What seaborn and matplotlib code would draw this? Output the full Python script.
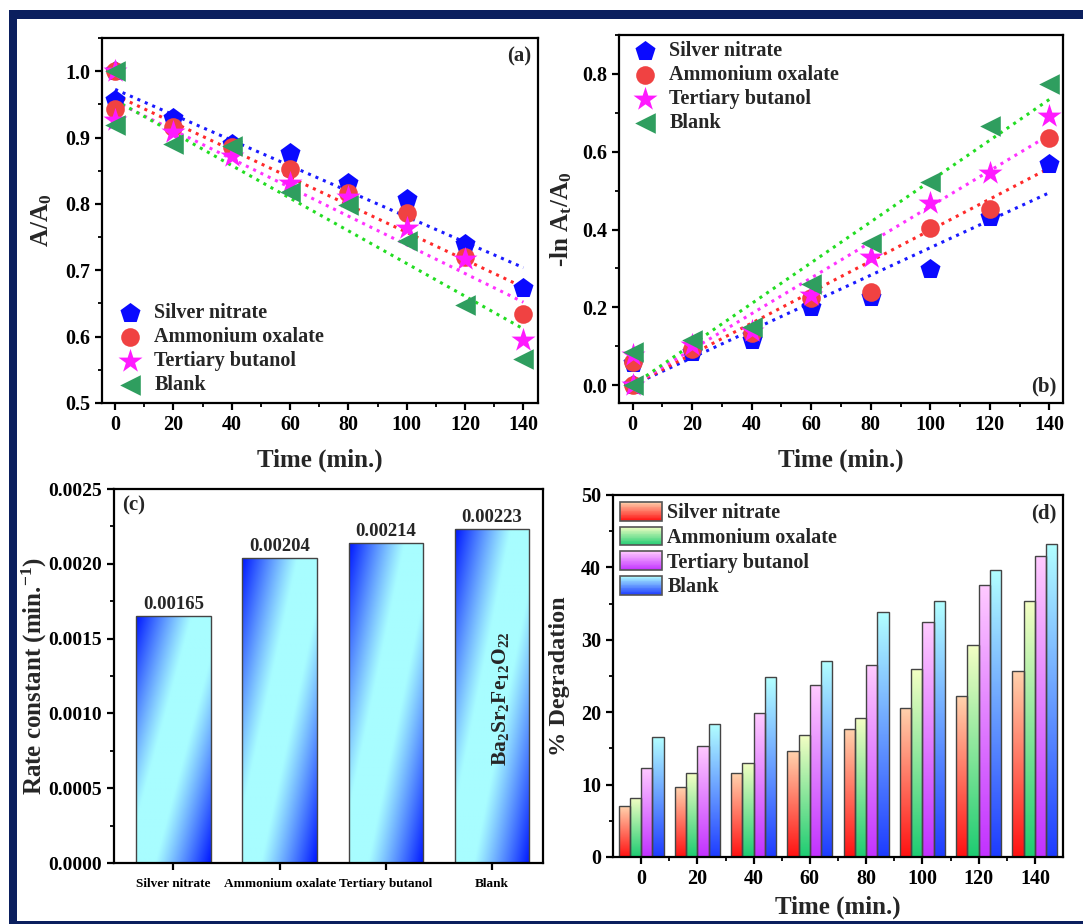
import matplotlib
matplotlib.use('Agg')
import matplotlib.pyplot as plt
import seaborn as sns
import numpy as np
import pandas as pd
from matplotlib.patches import Rectangle, Patch
from matplotlib.legend_handler import HandlerBase
from matplotlib.colors import LinearSegmentedColormap, to_rgb
from matplotlib.ticker import MultipleLocator, FixedLocator, FormatStrFormatter

# ---- data ----
time = [0, 20, 40, 60, 80, 100, 120, 140]
scavengers = ['Silver nitrate', 'Ammonium oxalate', 'Tertiary butanol', 'Blank']

# (a) A/A0 (every series also starts with a 1.0 point at t = 0)
a_silver = [0.956, 0.930, 0.891, 0.876, 0.832, 0.808, 0.740, 0.673]
a_ammonium = [0.943, 0.916, 0.885, 0.852, 0.816, 0.787, 0.720, 0.634]
a_tertiary = [0.927, 0.909, 0.872, 0.831, 0.810, 0.764, 0.717, 0.595]
a_blank = [0.919, 0.891, 0.888, 0.818, 0.798, 0.744, 0.647, 0.567]

# (b) -ln At/A0 (every series also starts with a 0.0 point at t = 0)
b_silver = [0.056, 0.086, 0.116, 0.200, 0.227, 0.298, 0.433, 0.568]
b_ammonium = [0.060, 0.092, 0.133, 0.223, 0.240, 0.403, 0.453, 0.634]
b_tertiary = [0.077, 0.103, 0.140, 0.232, 0.330, 0.468, 0.545, 0.693]
b_blank = [0.086, 0.116, 0.150, 0.260, 0.365, 0.523, 0.665, 0.775]

# (c) rate constants
rates = [0.00165, 0.00204, 0.00214, 0.00223]

# (d) % degradation
deg_silver = [7.0, 9.6, 11.6, 14.6, 17.7, 20.6, 22.2, 25.7]
deg_ammonium = [8.2, 11.6, 13.0, 16.9, 19.2, 26.0, 29.3, 35.3]
deg_tertiary = [12.3, 15.4, 19.9, 23.7, 26.5, 32.4, 37.6, 41.6]
deg_blank = [16.6, 18.4, 24.8, 27.1, 33.9, 35.4, 39.7, 43.3]

# ---- style ----
sns.set_theme(style='ticks')
plt.rcParams['font.family'] = ['Liberation Serif', 'DejaVu Serif']
plt.rcParams['font.weight'] = 'bold'
plt.rcParams['axes.labelweight'] = 'bold'
plt.rcParams['mathtext.fontset'] = 'custom'
plt.rcParams['mathtext.rm'] = 'Liberation Serif:bold'
plt.rcParams['mathtext.it'] = 'Liberation Serif:bold'
plt.rcParams['mathtext.bf'] = 'Liberation Serif:bold'
plt.rcParams['mathtext.default'] = 'rm'
plt.rcParams['axes.linewidth'] = 1.6
plt.rcParams['axes.edgecolor'] = 'black'
for ax_name in ['xtick', 'ytick']:
    plt.rcParams[f'{ax_name}.direction'] = 'out'
    plt.rcParams[f'{ax_name}.major.size'] = 5
    plt.rcParams[f'{ax_name}.major.width'] = 1.6
    plt.rcParams[f'{ax_name}.minor.size'] = 3
    plt.rcParams[f'{ax_name}.minor.width'] = 1.3
    plt.rcParams[f'{ax_name}.color'] = 'black'
    plt.rcParams[f'{ax_name}.labelsize'] = 14.5

LABEL_FS = 18
LEG_FS = 14.5

markers = ['p', 'o', '*', '<']
sizes = [230, 180, 330, 220]
marker_colors = ['#0a0aff', '#f04242', '#ff1aff', '#2f9e5f']
line_colors = ['#1a1aff', '#ff2a2a', '#ff33ff', '#22dd22']

fig = plt.figure(figsize=(10.83, 9.24), dpi=100)
W, H = 1083, 924


def axes_px(left, top, right, bottom):
    return fig.add_axes([left / W, 1 - bottom / H, (right - left) / W, (bottom - top) / H])


# navy frame
frame_c = '#0b1f5e'
fig.add_artist(Rectangle((9 / W, 1 - 18.5 / H), 1, 8.5 / H, transform=fig.transFigure,
                         facecolor=frame_c, edgecolor='none'))
fig.add_artist(Rectangle((9 / W, 0), 7.5 / W, 1 - 10 / H, transform=fig.transFigure,
                         facecolor=frame_c, edgecolor='none'))
fig.add_artist(Rectangle((9 / W, 0), 1, 3 / H, transform=fig.transFigure,
                         facecolor=frame_c, edgecolor='none'))

# ---- (a) ----
ax1 = axes_px(102, 38, 538, 403)
a_series = [a_silver, a_ammonium, a_tertiary, a_blank]
for vals, lc in zip(a_series, line_colors):
    sns.regplot(x=time, y=vals, scatter=False, ci=None, truncate=True, color=lc,
                line_kws=dict(ls=':', lw=2.2), ax=ax1)
for name, vals, m, s, c in zip(scavengers, a_series, markers, sizes, marker_colors):
    sns.scatterplot(x=[0] + time, y=[1.0] + vals, marker=m, s=s, color=c, linewidth=0,
                    label=name, ax=ax1, zorder=3)
ax1.set_xlim(-4.5, 145)
ax1.set_ylim(0.5, 1.05)
ax1.xaxis.set_major_locator(MultipleLocator(20))
ax1.xaxis.set_minor_locator(MultipleLocator(10))
ax1.yaxis.set_major_locator(MultipleLocator(0.1))
ax1.yaxis.set_minor_locator(MultipleLocator(0.05))
ax1.yaxis.set_major_formatter(FormatStrFormatter('%.1f'))
ax1.set_xlabel('Time (min.)', fontsize=LABEL_FS, labelpad=10)
ax1.set_ylabel('A/A$_0$', fontsize=LABEL_FS, labelpad=8)
ax1.legend(loc='lower left', frameon=False, fontsize=LEG_FS, handletextpad=0.2,
           labelspacing=0.2, borderaxespad=0.1, borderpad=0.3)
ax1.text(0.985, 0.95, '(a)', transform=ax1.transAxes, ha='right', va='center', fontsize=15)

# ---- (b) ----
ax2 = axes_px(619, 35, 1063, 403)
b_series = [b_silver, b_ammonium, b_tertiary, b_blank]
t_arr = np.array([0] + time, dtype=float)
for vals, lc in zip(b_series, line_colors):
    y = np.array([0.0] + vals)
    k = np.dot(t_arr, y) / np.dot(t_arr, t_arr)  # fit through origin
    ax2.plot(time, k * np.array(time), ls=':', lw=2.2, color=lc)
for name, vals, m, s, c in zip(scavengers, b_series, markers, sizes, marker_colors):
    sns.scatterplot(x=[0] + time, y=[0.0] + vals, marker=m, s=s, color=c, linewidth=0,
                    label=name, ax=ax2, zorder=3)
ax2.set_xlim(-4.6, 144.6)
ax2.set_ylim(-0.046, 0.9)
ax2.xaxis.set_major_locator(MultipleLocator(20))
ax2.xaxis.set_minor_locator(MultipleLocator(10))
ax2.yaxis.set_major_locator(MultipleLocator(0.2))
ax2.yaxis.set_minor_locator(MultipleLocator(0.1))
ax2.yaxis.set_major_formatter(FormatStrFormatter('%.1f'))
ax2.set_xlabel('Time (min.)', fontsize=LABEL_FS, labelpad=10)
ax2.set_ylabel('-ln A$_t$/A$_0$', fontsize=LABEL_FS, labelpad=6)
ax2.legend(loc='upper left', frameon=False, fontsize=LEG_FS, handletextpad=0.2,
           labelspacing=0.2, borderaxespad=0.0, borderpad=0.3)
ax2.text(0.985, 0.045, '(b)', transform=ax2.transAxes, ha='right', va='center', fontsize=15)

# ---- (c) ----
ax3 = axes_px(114, 489, 543, 863)
sns.barplot(x=scavengers, y=rates, width=0.7, color='white', edgecolor='#444444',
            linewidth=1.0, ax=ax3)

blue = np.array(to_rgb('#0018ff'))
cyan = np.array(to_rgb('#a8fdff'))
nx, ny = 60, 240
xf = np.linspace(0, 1, nx)[None, :]
yf = np.linspace(1, 0, ny)[:, None]
v = np.abs(xf - 0.9 * yf - 0.05)
w = np.clip((v - 0.2) / 0.75, 0, 1) ** 1.1
diag_img = cyan * (1 - w[..., None]) + blue * w[..., None]


def gradient_fill(ax, bar, img):
    x0, y0 = bar.get_xy()
    bw, bh = bar.get_width(), bar.get_height()
    im = ax.imshow(img, extent=[x0, x0 + bw, y0, y0 + bh], aspect='auto', origin='upper',
                   interpolation='bilinear', zorder=1.9)
    im.set_clip_path(bar)
    bar.set_facecolor('none')
    bar.set_zorder(2)


for bar in list(ax3.patches):
    gradient_fill(ax3, bar, diag_img)
for i, r in enumerate(rates):
    ax3.text(i, r + 0.00002, f'{r:.5f}', ha='center', va='bottom', fontsize=13.5)
ax3.text(3.08, 0.0011, 'Ba$_2$Sr$_2$Fe$_{12}$O$_{22}$', rotation=90, ha='center', va='center',
         fontsize=15.5)
ax3.set_xlim(-0.56, 3.48)
ax3.set_ylim(0, 0.0025)
ax3.yaxis.set_major_locator(MultipleLocator(0.0005))
ax3.yaxis.set_minor_locator(MultipleLocator(0.00025))
ax3.yaxis.set_major_formatter(FormatStrFormatter('%.4f'))
ax3.tick_params(axis='x', labelsize=9.5, pad=6)
ax3.tick_params(axis='y', labelsize=14)
ax3.set_ylabel('Rate constant (min.$^{-1}$)', fontsize=18)
ax3.yaxis.set_label_coords(-0.152, 0.5)
ax3.text(0.02, 0.955, '(c)', transform=ax3.transAxes, ha='left', va='center', fontsize=15)

# ---- (d) ----
ax4 = axes_px(613, 495, 1063, 857)
deg_series = [deg_silver, deg_ammonium, deg_tertiary, deg_blank]
rows = []
for name, vals in zip(scavengers, deg_series):
    for t, d in zip(time, vals):
        rows.append({'time': t, 'deg': d, 'scavenger': name})
df = pd.DataFrame(rows)
sns.barplot(data=df, x='time', y='deg', hue='scavenger', hue_order=scavengers, width=0.8,
            errorbar=None, edgecolor='#444444', linewidth=1.0, legend=False, ax=ax4)

grad_colors = [('#ffd2ad', '#ff1212'), ('#f4ffc4', '#1ecc72'),
               ('#ffcaff', '#c232ff'), ('#b2ffff', '#1e3cff')]
cmaps = [LinearSegmentedColormap.from_list(n, c) for n, c in zip(scavengers, grad_colors)]
for cont, cm in zip(ax4.containers, cmaps):
    vimg = cm(np.linspace(0, 1, 120))[:, None, :3]
    for bar in cont:
        gradient_fill(ax4, bar, vimg)

ax4.set_xlim(-0.5, 7.5)
ax4.set_ylim(0, 50)
ax4.yaxis.set_major_locator(MultipleLocator(10))
ax4.yaxis.set_minor_locator(MultipleLocator(5))
ax4.xaxis.set_minor_locator(FixedLocator(np.arange(0.5, 7, 1)))
ax4.set_xlabel('Time (min.)', fontsize=LABEL_FS, labelpad=5)
ax4.set_ylabel('% Degradation', fontsize=17.5, labelpad=8)
ax4.text(0.985, 0.95, '(d)', transform=ax4.transAxes, ha='right', va='center', fontsize=15)


class GradientHandler(HandlerBase):
    def __init__(self, cmap):
        super().__init__()
        self.cmap = cmap

    def create_artists(self, legend, orig_handle, xdescent, ydescent, width, height,
                       fontsize, trans):
        n = 24
        arts = []
        for i in range(n):
            frac = (i + 0.5) / n
            arts.append(Rectangle((-xdescent, -ydescent + i * height / n), width, height / n,
                                  facecolor=self.cmap(1 - frac), edgecolor='none',
                                  transform=trans))
        arts.append(Rectangle((-xdescent, -ydescent), width, height, fill=False,
                              edgecolor='#555555', lw=1.2, transform=trans))
        return arts


proxies = [Patch(label=n) for n in scavengers]
ax4.legend(handles=proxies, handler_map={p: GradientHandler(cm) for p, cm in zip(proxies, cmaps)},
           loc='upper left', frameon=False, fontsize=LEG_FS, handlelength=2.1,
           handleheight=1.05, handletextpad=0.25, labelspacing=0.17, borderaxespad=0.15,
           borderpad=0.2)

for ax in [ax1, ax2, ax3, ax4]:
    for sp in ax.spines.values():
        sp.set_visible(True)
        sp.set_linewidth(1.6)
        sp.set_zorder(3)

fig.savefig('out.png', dpi=100)
plt.close('all')
